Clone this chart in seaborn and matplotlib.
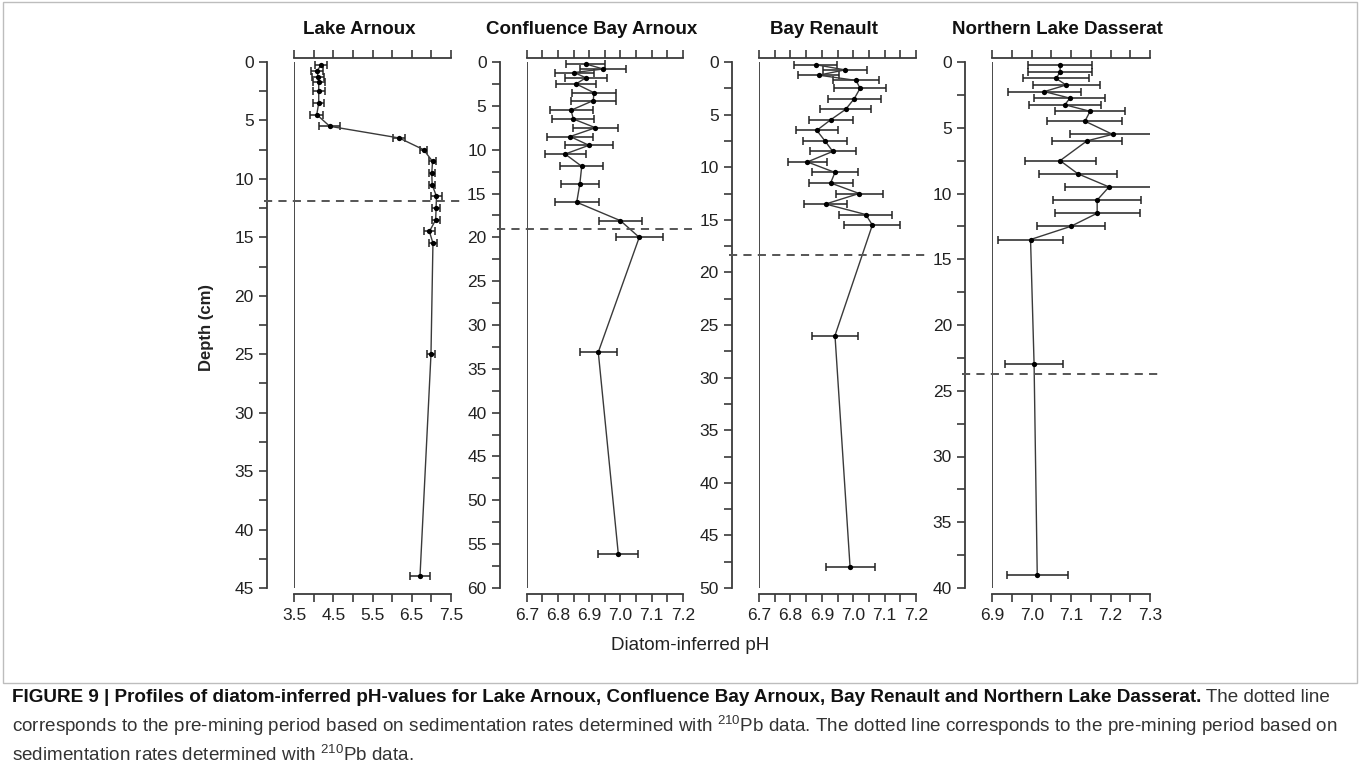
import numpy as np
import pandas as pd
import matplotlib
matplotlib.use("Agg")
import matplotlib.pyplot as plt
import matplotlib.ticker as mticker
import matplotlib.transforms as mtransforms
import seaborn as sns

# ---------------- data ----------------
titles = ["Lake Arnoux", "Confluence Bay Arnoux", "Bay Renault", "Northern Lake Dasserat"]

arnoux_depth = [0.25, 0.75, 1.25, 1.75, 2.5, 3.5, 4.5, 5.5, 6.5, 7.5, 8.5, 9.5, 10.5,
                11.5, 12.5, 13.5, 14.5, 15.5, 25.0, 44.0]
arnoux_ph = [4.19, 4.09, 4.11, 4.13, 4.13, 4.13, 4.08, 4.41, 6.18, 6.80, 7.03, 7.01, 7.02,
             7.13, 7.12, 7.11, 6.95, 7.04, 6.99, 6.71]
arnoux_err = [0.15, 0.15, 0.15, 0.15, 0.15, 0.14, 0.16, 0.27, 0.15, 0.10, 0.08, 0.08, 0.08,
              0.13, 0.10, 0.10, 0.14, 0.10, 0.11, 0.26]

confluence_depth = [0.23, 0.8, 1.2, 1.8, 2.5, 3.5, 4.4, 5.5, 6.5, 7.5, 8.5, 9.5, 10.5,
                    11.9, 13.9, 16.0, 18.1, 20.0, 33.1, 56.1]
confluence_ph = [6.889, 6.945, 6.852, 6.889, 6.858, 6.915, 6.913, 6.842, 6.849, 6.920,
                 6.839, 6.899, 6.823, 6.876, 6.870, 6.860, 7.000, 7.060, 6.929, 6.993]
confluence_err = [0.063, 0.074, 0.062, 0.068, 0.065, 0.070, 0.072, 0.069, 0.067, 0.071,
                  0.073, 0.076, 0.066, 0.069, 0.060, 0.070, 0.070, 0.075, 0.060, 0.064]

renault_depth = [0.25, 0.75, 1.25, 1.75, 2.5, 3.5, 4.5, 5.5, 6.5, 7.5, 8.5, 9.5, 10.5,
                 11.5, 12.5, 13.5, 14.5, 15.5, 26.0, 48.0]
renault_ph = [6.880, 6.974, 6.890, 7.009, 7.022, 7.003, 6.976, 6.928, 6.884, 6.910,
              6.935, 6.854, 6.942, 6.928, 7.019, 6.912, 7.040, 7.061, 6.942, 6.990]
renault_err = [0.069, 0.070, 0.065, 0.074, 0.083, 0.084, 0.081, 0.070, 0.067, 0.070,
               0.074, 0.063, 0.073, 0.070, 0.075, 0.069, 0.085, 0.089, 0.073, 0.078]

dasserat_depth = [0.25, 0.75, 1.25, 1.75, 2.25, 2.75, 3.25, 3.75, 4.5, 5.5, 6.0, 7.5, 8.5,
                  9.5, 10.5, 11.5, 12.5, 13.5, 23.0, 39.0]
dasserat_ph = [7.072, 7.072, 7.062, 7.087, 7.032, 7.097, 7.084, 7.148, 7.135, 7.205,
               7.140, 7.072, 7.117, 7.196, 7.166, 7.166, 7.099, 6.997, 7.006, 7.014]
dasserat_err = [0.082, 0.082, 0.084, 0.085, 0.092, 0.090, 0.092, 0.089, 0.095, 0.108,
                0.088, 0.090, 0.099, 0.111, 0.112, 0.108, 0.086, 0.083, 0.074, 0.077]

premining_depth = [11.85, 19.0, 18.3, 23.7]

x_limits = [(3.5, 7.5), (6.7, 7.2), (6.7, 7.2), (6.9, 7.3)]
x_major = [1.0, 0.1, 0.1, 0.1]
x_minor = [0.5, 0.05, 0.05, 0.05]
depth_max = [45, 60, 50, 40]

x_label = "Diatom-inferred pH"
y_label = "Depth (cm)"

caption_bold = ("FIGURE 9 | Profiles of diatom-inferred pH-values for Lake Arnoux, "
                "Confluence Bay Arnoux, Bay Renault and Northern Lake Dasserat.")
caption_rest1 = " The dotted line"
caption_line2 = ("corresponds to the pre-mining period based on sedimentation rates determined with "
                 r"$^{\mathregular{210}}$Pb data. The dotted line corresponds to the pre-mining period based on")
caption_line3 = r"sedimentation rates determined with $^{\mathregular{210}}$Pb data."

# ---------------- style ----------------
sns.set_theme(style="ticks")
plt.rcParams["font.family"] = ["Liberation Sans", "DejaVu Sans"]
plt.rcParams["mathtext.default"] = "regular"

INK = "#222222"
SPINE = "#3a3a3a"

W, H = 1360, 771
fig = plt.figure(figsize=(W / 100, H / 100), dpi=100)
fig.patch.set_facecolor("white")

panel_lr = [(294, 451), (526.7, 683), (759, 916), (992.3, 1150)]
top_px, bot_px = 57.7, 594.0
zero_px, max_px = 62.0, 588.0
y_offset_px = 27

datasets = [
    (arnoux_depth, arnoux_ph, arnoux_err),
    (confluence_depth, confluence_ph, confluence_err),
    (renault_depth, renault_ph, renault_err),
    (dasserat_depth, dasserat_ph, dasserat_err),
]

for i, ((L, R), (dep, ph, err)) in enumerate(zip(panel_lr, datasets)):
    ax = fig.add_axes([L / W, 1 - bot_px / H, (R - L) / W, (bot_px - top_px) / H])
    ax.set_facecolor("white")
    dmax = depth_max[i]
    ppu = (max_px - zero_px) / dmax
    ax.set_ylim(dmax + (bot_px - max_px) / ppu, -(zero_px - top_px) / ppu)
    ax.set_xlim(*x_limits[i])

    df = pd.DataFrame({"depth": dep, "ph": ph, "err": err})
    ax.errorbar(df["ph"], df["depth"], xerr=df["err"], fmt="none", ecolor=INK,
                elinewidth=1.1, capsize=2.8, capthick=1.1, zorder=2)
    sns.lineplot(data=df, x="ph", y="depth", sort=False, orient="y", estimator=None,
                 ax=ax, color=SPINE, lw=1.0, marker="o", markersize=3.8,
                 markeredgewidth=0, markeredgecolor="black", markerfacecolor="black",
                 zorder=3)
    ax.set_xlabel("")
    ax.set_ylabel("")

    ax.vlines(x_limits[i][0], 0, dmax, color=SPINE, lw=1.3, zorder=1)

    w_px = R - L
    blend = mtransforms.blended_transform_factory(ax.transAxes, ax.transData)
    ax.plot([-30 / w_px, 1 + 9 / w_px], [premining_depth[i]] * 2, transform=blend,
            clip_on=False, color="#555555", lw=1.4, ls=(0, (4.2, 3.2)), zorder=4)

    ax.spines["right"].set_visible(False)
    for s in ("top", "bottom", "left"):
        ax.spines[s].set_color(SPINE)
        ax.spines[s].set_linewidth(1.3)
    ax.spines["left"].set_position(("outward", y_offset_px * 0.72))
    ax.spines["left"].set_bounds(0, dmax)

    lo, hi = x_limits[i]
    ax.xaxis.set_major_locator(mticker.FixedLocator(np.arange(lo, hi + 1e-9, x_major[i])))
    ax.xaxis.set_minor_locator(mticker.FixedLocator(np.arange(lo, hi + 1e-9, x_minor[i])))
    ax.xaxis.set_major_formatter(mticker.FormatStrFormatter("%.1f"))
    ax.yaxis.set_major_locator(mticker.MultipleLocator(5))
    ax.yaxis.set_minor_locator(mticker.MultipleLocator(2.5))
    ax.tick_params(axis="x", which="both", top=True, bottom=True, labeltop=False,
                   direction="out", length=6, width=1.2, color=SPINE,
                   labelsize=12.5, labelcolor=INK, pad=4)
    ax.tick_params(axis="y", which="both", left=True, right=False, direction="out",
                   length=5.5, width=1.2, color=SPINE, labelsize=12.5, labelcolor=INK, pad=4)
    ax.grid(False)

    cx = ((L - y_offset_px) + R) / 2
    fig.text(cx / W, 1 - 30 / H, titles[i], ha="center", va="center",
             fontsize=13.5, fontweight="bold", color="#111111")

fig.text(207 / W, 1 - 327 / H, y_label, rotation=90, ha="center", va="center",
         fontsize=12, fontweight="bold", color=INK)
fig.text(690 / W, 1 - 646 / H, x_label, ha="center", va="center",
         fontsize=13.5, color=INK)

frame = plt.Rectangle((3 / W, 1 - 683 / H), (1357 - 3) / W, (683 - 2) / H,
                      transform=fig.transFigure, fill=False, ec="#bdbdbd", lw=1.0)
fig.patches.append(frame)

cap_family = ["Liberation Sans", "DejaVu Sans"]
cap_size = 13.6
t1 = fig.text(12 / W, 1 - 697 / H, caption_bold, ha="left", va="center",
              fontsize=cap_size, fontweight="bold", family=cap_family, color="#111111")
fig.canvas.draw()
bb = t1.get_window_extent()
fig.text(bb.x1 / W, 1 - 697 / H, caption_rest1, ha="left", va="center",
         fontsize=cap_size, family=cap_family, color="#333333")
fig.text(12 / W, 1 - 726 / H, caption_line2, ha="left", va="center",
         fontsize=cap_size, family=cap_family, color="#333333")
fig.text(12 / W, 1 - 755 / H, caption_line3, ha="left", va="center",
         fontsize=cap_size, family=cap_family, color="#333333")

fig.savefig("out.png", dpi=100, facecolor="white")
